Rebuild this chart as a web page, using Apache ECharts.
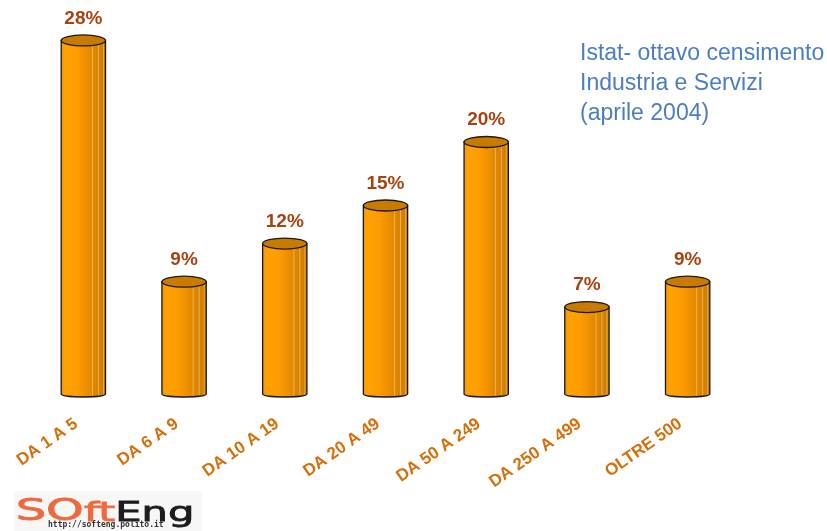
<!DOCTYPE html>
<html>
<head>
<meta charset="utf-8">
<script src="https://cdn.jsdelivr.net/npm/echarts@6/dist/echarts.min.js"></script>
<style>
  html, body { margin: 0; padding: 0; background: #ffffff; }
  #chart { width: 827px; height: 531px; }
</style>
</head>
<body>
<div id="chart"></div>
<script>
// Imprese per classe di addetti (quota percentuale)
const categories = ['DA 1 A 5', 'DA 6 A 9', 'DA 10 A 19', 'DA 20 A 49', 'DA 50 A 249', 'DA 250 A 499', 'OLTRE 500'];
const shares = [28, 9, 12, 15, 20, 7, 9];
const titleLines = ['Istat- ottavo censimento', 'Industria e Servizi', '(aprile 2004)'];

const chart = echarts.init(document.getElementById('chart'), null, { renderer: 'canvas' });

// cylinder body shading: bright left side, darker right side with thin highlights
const bodyFill = new echarts.graphic.LinearGradient(0, 0, 1, 0, [
  { offset: 0.00, color: '#F39200' },
  { offset: 0.10, color: '#FFA204' },
  { offset: 0.35, color: '#FF9C00' },
  { offset: 0.55, color: '#EE9000' },
  { offset: 0.68, color: '#E28900' },
  { offset: 0.70, color: '#F2B35A' },
  { offset: 0.72, color: '#E08700' },
  { offset: 0.81, color: '#D98400' },
  { offset: 0.83, color: '#EDB062' },
  { offset: 0.85, color: '#D78300' },
  { offset: 0.92, color: '#D28000' },
  { offset: 0.94, color: '#E9A852' },
  { offset: 0.96, color: '#CF7E00' },
  { offset: 1.00, color: '#CC7C00' }
]);

function ellipsePath(cx, cy, rx, ry) {
  const k = 0.5523;
  return 'M' + (cx - rx) + ' ' + cy +
    ' C' + (cx - rx) + ' ' + (cy - ry * k) + ' ' + (cx - rx * k) + ' ' + (cy - ry) + ' ' + cx + ' ' + (cy - ry) +
    ' C' + (cx + rx * k) + ' ' + (cy - ry) + ' ' + (cx + rx) + ' ' + (cy - ry * k) + ' ' + (cx + rx) + ' ' + cy +
    ' C' + (cx + rx) + ' ' + (cy + ry * k) + ' ' + (cx + rx * k) + ' ' + (cy + ry) + ' ' + cx + ' ' + (cy + ry) +
    ' C' + (cx - rx * k) + ' ' + (cy + ry) + ' ' + (cx - rx) + ' ' + (cy + ry * k) + ' ' + (cx - rx) + ' ' + cy + ' Z';
}

function renderCylinder(params, api) {
  const idx = api.value(0);
  const val = api.value(1);
  const top = api.coord([idx, val]);
  const base = api.coord([idx, 0]);
  const band = api.size([1, 0])[0];
  const w = band * 0.44;
  const cx = top[0];
  const x0 = cx - w / 2, x1 = cx + w / 2;
  const yTop = top[1], yBase = base[1] - 2;
  const ryTop = 5.5, ryBot = 3;
  const kb = 1.33;
  const body = 'M' + x0 + ' ' + yTop + ' L' + x0 + ' ' + yBase +
    ' C' + x0 + ' ' + (yBase + ryBot * kb) + ' ' + x1 + ' ' + (yBase + ryBot * kb) + ' ' + x1 + ' ' + yBase +
    ' L' + x1 + ' ' + yTop + ' Z';
  return {
    type: 'group',
    children: [
      {
        type: 'path',
        shape: { pathData: body },
        style: { fill: bodyFill, stroke: '#1a1a1a', lineWidth: 1.3 }
      },
      {
        type: 'path',
        shape: { pathData: ellipsePath(cx, yTop, w / 2, ryTop) },
        style: { fill: '#C97A00', stroke: '#1a1a1a', lineWidth: 1.3 }
      },
      {
        type: 'text',
        x: cx,
        y: yTop - ryTop - 7,
        style: {
          text: val + '%',
          fill: '#A8430F',
          font: 'bold 19px "Liberation Sans", Arial, sans-serif',
          align: 'center',
          verticalAlign: 'bottom'
        }
      }
    ]
  };
}

const option = {
  backgroundColor: '#ffffff',
  animation: false,
  grid: { left: 33, width: 705, top: 15, bottom: 135 },
  xAxis: {
    type: 'category',
    data: categories,
    axisLine: { show: false },
    axisTick: { show: false },
    axisLabel: {
      rotate: 35,
      margin: 21,
      padding: [0, 9, 0, 0],
      interval: 0,
      color: '#D4700C',
      fontWeight: 'bold',
      fontSize: 17,
      fontFamily: '"Liberation Sans", Arial, sans-serif'
    }
  },
  yAxis: { type: 'value', min: 0, max: 30, show: false },
  series: [{
    type: 'custom',
    renderItem: renderCylinder,
    data: shares.map((v, i) => [i, v]),
    clip: false
  }],
  graphic: [
    {
      type: 'text',
      left: 580,
      top: 39,
      style: {
        text: titleLines.join('\n'),
        fill: '#4A7EBF',
        font: '23px "Liberation Sans", Arial, sans-serif',
        lineHeight: 30
      }
    },
    {
      type: 'rect',
      left: 14, top: 491,
      shape: { width: 188, height: 40 },
      style: { fill: '#f7f7f7' }
    },
    {
      type: 'text',
      left: 15,
      top: 497,
      scaleX: 1.6,
      style: {
        text: '{a|SO}{b|ft}{c|Eng}',
        rich: {
          a: { fill: '#EE6A3C', stroke: '#EE6A3C', lineWidth: 0.8, font: '30px "DejaVu Sans", sans-serif', verticalAlign: 'bottom' },
          b: { fill: '#EE6A3C', stroke: '#EE6A3C', lineWidth: 0.8, font: '27px "DejaVu Sans", sans-serif', verticalAlign: 'bottom' },
          c: { fill: '#1c1c1c', stroke: '#1c1c1c', lineWidth: 0.8, font: '26px "DejaVu Sans", sans-serif', verticalAlign: 'bottom' }
        }
      }
    },
    {
      type: 'text',
      left: 48,
      top: 521,
      style: {
        text: 'http://softeng.polito.it',
        fill: '#333333',
        font: 'bold 8px "DejaVu Sans Mono", monospace'
      }
    }
  ]
};

chart.setOption(option);
</script>
</body>
</html>
